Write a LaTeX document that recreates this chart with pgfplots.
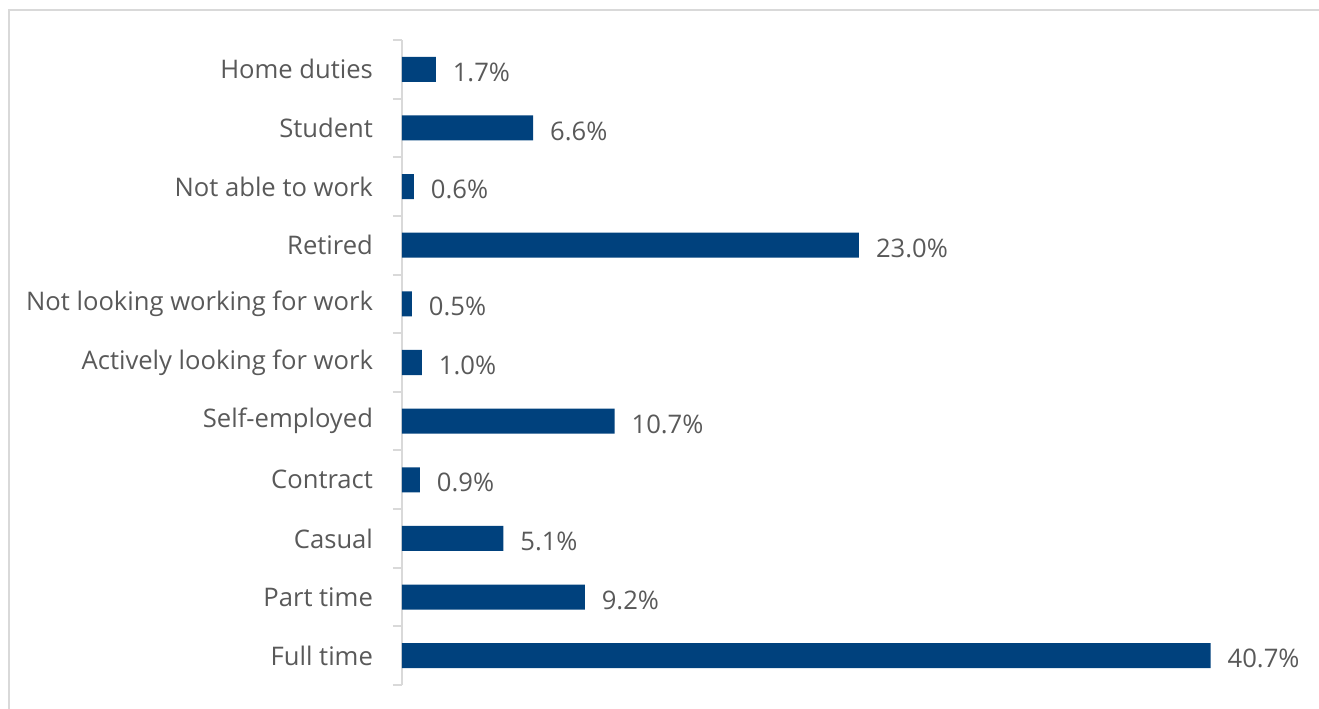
\documentclass[border=0pt]{standalone}
\usepackage{pgfplots}
\pgfplotsset{compat=1.18}
\usepackage{fontspec}
\setmainfont{Open Sans}
\definecolor{barblue}{HTML}{00417D}
\definecolor{txtgray}{HTML}{595959}
\definecolor{linegray}{HTML}{D9D9D9}
\begin{document}
\begin{tikzpicture}[x=0.5pt,y=0.5pt]
\useasboundingbox (0,0) rectangle (1319,708);
\draw[linegray,line width=1pt] (9,-5) -- (9,698) -- (1330,698);
\begin{axis}[
  at={(201pt,11.5pt)}, anchor=south west,
  scale only axis, width=449pt, height=322.5pt,
  xmin=0, xmax=45.2, ymin=-0.5, ymax=10.5,
  axis x line=none,
  axis y line*=left,
  y axis line style={linegray, line width=1pt},
  ytick={0,...,10},
  yticklabels={Full time,Part time,Casual,Contract,Self-employed,Actively looking for work,Not looking working for work,Retired,Not able to work,Student,Home duties},
  major tick length=0pt,
  minor ytick={-0.5,0.5,...,10.5},
  minor tick length=4.5pt,
  tick align=outside,
  minor tick style={linegray, line width=1pt},
  yticklabel style={font=\fontsize{12.8}{14}\selectfont, text=txtgray, xshift=-11pt},
  /pgf/number format/assume math mode=true,
  xbar, bar width=12.5pt,
  point meta=x,
  nodes near coords={\pgfmathprintnumber[fixed,fixed zerofill,precision=1]{\pgfplotspointmeta}\%},
  nodes near coords style={font=\fontsize{12.8}{14}\selectfont, text=txtgray, anchor=west, xshift=5pt, yshift=-1.5pt},
  clip=false,
]
\addplot[fill=barblue, draw=none] coordinates {
(40.7,0) (9.2,1) (5.1,2) (0.9,3) (10.7,4) (1.0,5) (0.5,6) (23.0,7) (0.6,8) (6.6,9) (1.7,10)
};
\end{axis}
\end{tikzpicture}
\end{document}
